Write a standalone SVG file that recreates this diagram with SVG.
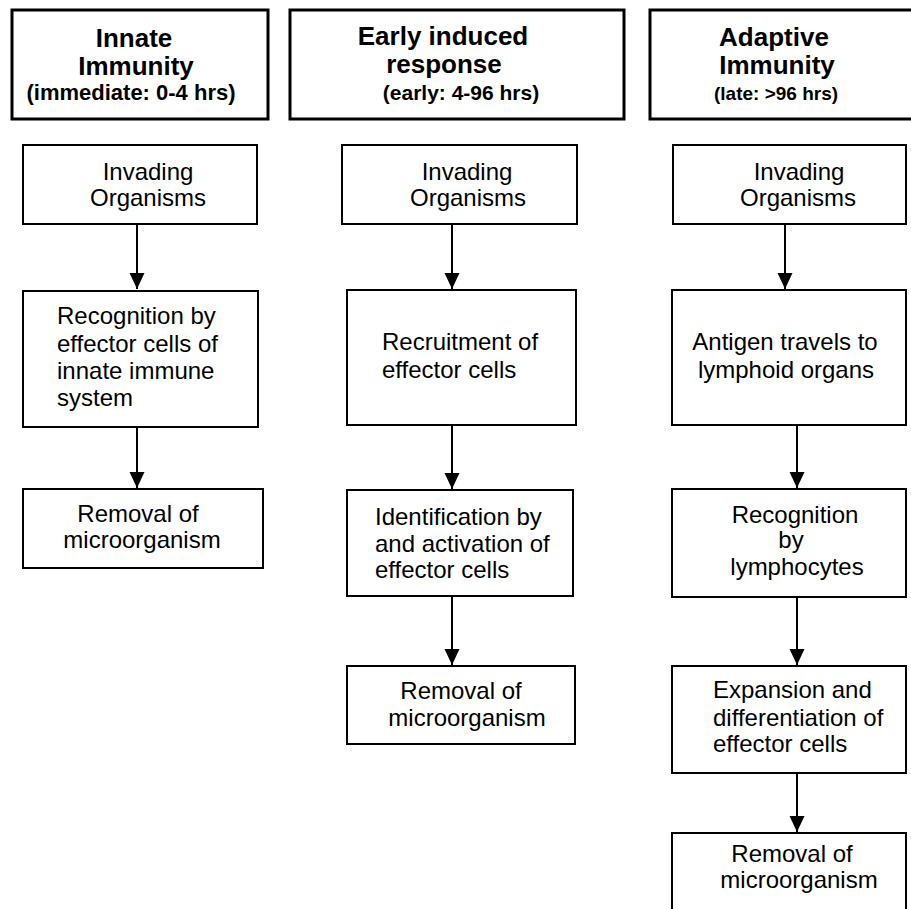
<svg xmlns="http://www.w3.org/2000/svg" width="911" height="909" viewBox="0 0 911 909">
<style>
.hdr{fill:#fff;stroke:#000;stroke-width:3}
.box{fill:#fff;stroke:#000;stroke-width:2}
.t{font-family:"Liberation Sans",Arial,sans-serif;font-size:24px;fill:#000}
.ht{font-family:"Liberation Sans",Arial,sans-serif;font-size:26px;font-weight:bold;fill:#000;text-anchor:middle}
.hs{font-family:"Liberation Sans",Arial,sans-serif;font-weight:bold;fill:#000;text-anchor:middle}
.c{text-anchor:middle}
.conn line{stroke:#000;stroke-width:2;marker-end:url(#ah)}
</style>
<defs>
<marker id="ah" markerUnits="userSpaceOnUse" markerWidth="16" markerHeight="16" refX="16" refY="8" orient="auto">
<path d="M0,0.5 L16,8 L0,15.5 z" fill="#000"/>
</marker>
</defs>
<rect width="911" height="909" fill="#fff"/>

<g id="hdr-innate">
<rect class="hdr" x="12" y="10" width="256" height="109"/>
<text class="ht" x="134" y="47">Innate</text>
<text class="ht" x="136" y="75">Immunity</text>
<text class="hs" x="131" y="100" font-size="22">(immediate: 0-4 hrs)</text>
</g>
<g id="hdr-early">
<rect class="hdr" x="290" y="10" width="334" height="109"/>
<text class="ht" x="443" y="45">Early induced</text>
<text class="ht" x="444" y="73">response</text>
<text class="hs" x="461" y="100" font-size="21">(early: 4-96 hrs)</text>
</g>
<g id="hdr-adaptive">
<rect class="hdr" x="650" y="10" width="270" height="109"/>
<text class="ht" x="774" y="46">Adaptive</text>
<text class="ht" x="777" y="74">Immunity</text>
<text class="hs" x="776" y="100" font-size="19">(late: &gt;96 hrs)</text>
</g>

<g id="a1">
<rect class="box" x="23" y="145" width="234" height="79"/>
<text class="t c" x="148" y="180">Invading</text>
<text class="t c" x="148" y="206">Organisms</text>
</g>
<g id="a2">
<rect class="box" x="23" y="291" width="235" height="136"/>
<text class="t" x="57" y="324">Recognition by</text>
<text class="t" x="57" y="352">effector cells of</text>
<text class="t" x="57" y="379">innate immune</text>
<text class="t" x="57" y="406">system</text>
</g>
<g id="a3">
<rect class="box" x="23" y="489" width="240" height="79"/>
<text class="t c" x="138" y="522">Removal of</text>
<text class="t c" x="142" y="548">microorganism</text>
</g>

<g id="b1">
<rect class="box" x="342" y="145" width="235" height="79"/>
<text class="t c" x="467" y="180">Invading</text>
<text class="t c" x="468" y="206">Organisms</text>
</g>
<g id="b2">
<rect class="box" x="347" y="290" width="229" height="135"/>
<text class="t" x="382" y="350">Recruitment of</text>
<text class="t" x="382" y="378">effector cells</text>
</g>
<g id="b3">
<rect class="box" x="347" y="490" width="226" height="106"/>
<text class="t" x="375" y="525">Identification by</text>
<text class="t" x="375" y="552">and activation of</text>
<text class="t" x="375" y="578">effector cells</text>
</g>
<g id="b4">
<rect class="box" x="347" y="666" width="228" height="78"/>
<text class="t c" x="461" y="699">Removal of</text>
<text class="t c" x="467" y="726">microorganism</text>
</g>

<g id="c1">
<rect class="box" x="673" y="145" width="233" height="79"/>
<text class="t c" x="799" y="180">Invading</text>
<text class="t c" x="798" y="206">Organisms</text>
</g>
<g id="c2">
<rect class="box" x="672" y="290" width="234" height="135"/>
<text class="t c" x="785" y="350">Antigen travels to</text>
<text class="t c" x="786" y="378">lymphoid organs</text>
</g>
<g id="c3">
<rect class="box" x="672" y="489" width="234" height="108"/>
<text class="t c" x="795" y="523">Recognition</text>
<text class="t c" x="791" y="548">by</text>
<text class="t c" x="797" y="575">lymphocytes</text>
</g>
<g id="c4">
<rect class="box" x="672" y="666" width="234" height="107"/>
<text class="t" x="713" y="698">Expansion and</text>
<text class="t" x="713" y="726">differentiation of</text>
<text class="t" x="713" y="752">effector cells</text>
</g>
<g id="c5">
<rect class="box" x="672" y="833" width="234" height="100"/>
<text class="t c" x="792" y="862">Removal of</text>
<text class="t c" x="799" y="888">microorganism</text>
</g>

<g id="connectors" class="conn">
<line x1="137" y1="224" x2="137" y2="289"/>
<line x1="137" y1="427" x2="137" y2="488"/>
<line x1="452" y1="224" x2="452" y2="289"/>
<line x1="452" y1="425" x2="452" y2="489"/>
<line x1="452" y1="596" x2="452" y2="665"/>
<line x1="785" y1="224" x2="785" y2="289"/>
<line x1="797" y1="425" x2="797" y2="488"/>
<line x1="797" y1="597" x2="797" y2="665"/>
<line x1="797" y1="773" x2="797" y2="832"/>
</g>
</svg>
